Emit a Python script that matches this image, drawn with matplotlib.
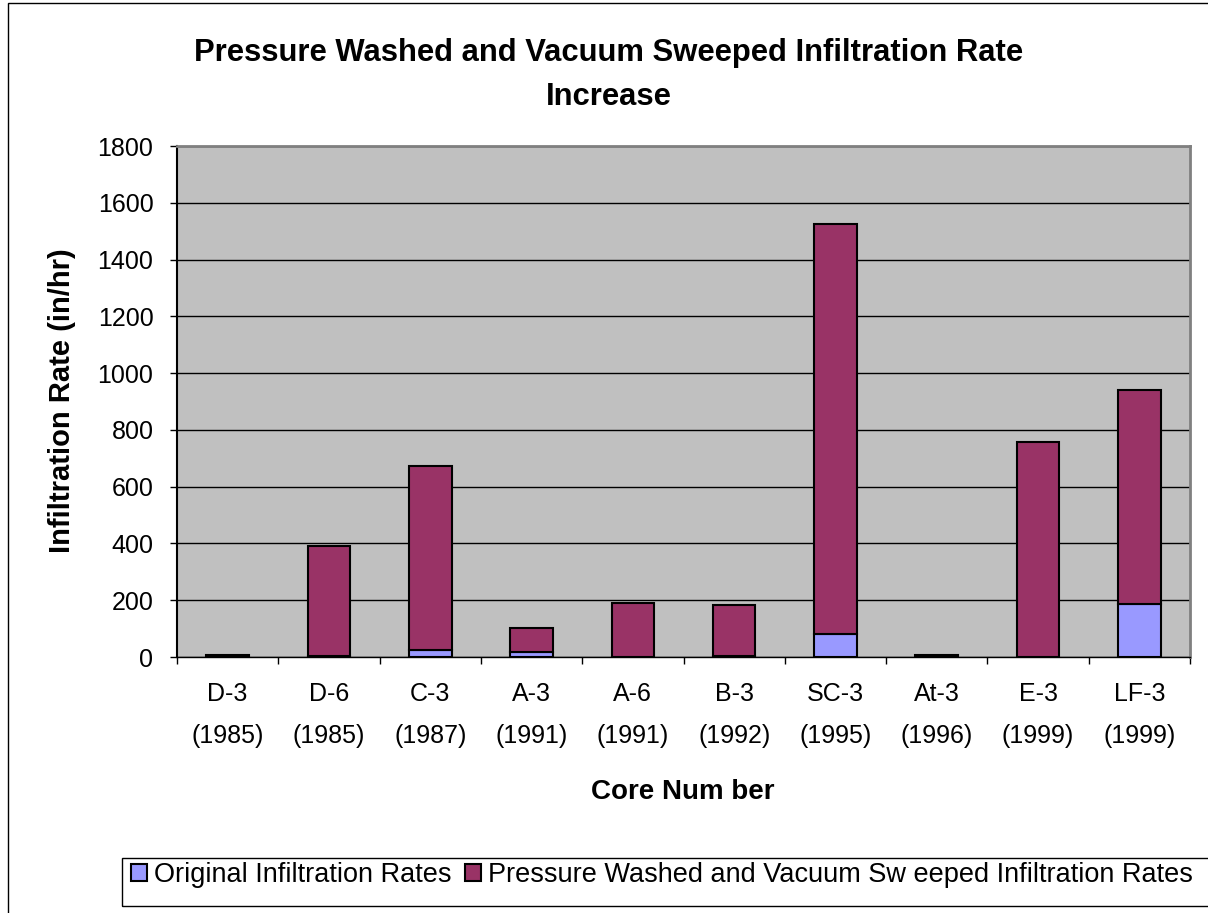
import matplotlib.pyplot as plt
from matplotlib.patches import Rectangle
import numpy as np

plt.rcParams['font.family'] = ['Liberation Sans', 'DejaVu Sans']

cores = ['D-3', 'D-6', 'C-3', 'A-3', 'A-6', 'B-3', 'SC-3', 'At-3', 'E-3', 'LF-3']
years = ['1985', '1985', '1987', '1991', '1991', '1992', '1995', '1996', '1999', '1999']
original = [1, 3, 25, 16, 0, 3, 82, 1, 0, 185]
washed_total = [6, 390, 673, 101, 191, 183, 1527, 6, 756, 941]

W, H = 1208, 913
fig = plt.figure(figsize=(W / 100, H / 100), dpi=100)
ax = fig.add_axes([177 / W, 1 - 657 / H, (1190 - 177) / W, (657 - 146) / H])

x = np.arange(len(cores))
orig = np.array(original)
top = np.array(washed_total) - orig
ax.bar(x, orig, width=0.42, color='#9999FF', edgecolor='black', linewidth=1.5,
       label='Original Infiltration Rates', zorder=3)
ax.bar(x, top, bottom=orig, width=0.42, color='#993366', edgecolor='black', linewidth=1.5,
       label='Pressure Washed and Vacuum Sw eeped Infiltration Rates', zorder=3)

ax.set_facecolor('#C0C0C0')
ax.set_xlim(-0.5, len(cores) - 0.5)
ax.set_ylim(0, 1800)
ax.set_yticks(np.arange(0, 1801, 200))
ax.yaxis.grid(True, color='black', linewidth=1, zorder=1)
ax.set_axisbelow(True)
ax.set_xticks(x)
ax.set_xticklabels([c + '\n(' + y + ')' for c, y in zip(cores, years)], linespacing=1.95)
ax.set_xticks(np.arange(-0.5, len(cores)), minor=True)
ax.tick_params(axis='x', which='major', length=0, labelsize=18, pad=18)
ax.tick_params(axis='x', which='minor', length=5, width=1)
ax.tick_params(axis='y', length=5, width=1, labelsize=18, pad=12)

for s in ['top', 'right']:
    ax.spines[s].set_color('#808080')
    ax.spines[s].set_linewidth(2)
ax.spines['left'].set_color('black')
ax.spines['left'].set_linewidth(1.5)
ax.spines['bottom'].set_color('black')
ax.spines['bottom'].set_linewidth(1)

fig.text(62 / W, 1 - 401 / H, 'Infiltration Rate (in/hr)', fontsize=21, fontweight='bold',
         ha='center', va='center', rotation=90)
fig.text(683 / W, 1 - 792 / H, 'Core Num ber', fontsize=20, fontweight='bold',
         ha='center', va='center')
fig.text(609 / W, 1 - 75 / H, 'Pressure Washed and Vacuum Sweeped Infiltration Rate\nIncrease',
         fontsize=22.3, fontweight='bold', ha='center', va='center', linespacing=1.6)

# outer chart border and legend box
fig.patches.append(Rectangle((8 / W, -0.01), 1.02, 1 - 3 / H + 0.01, transform=fig.transFigure,
                             fill=False, edgecolor='black', linewidth=1))
fig.patches.append(Rectangle((122 / W, 1 - 906 / H), 1.0, 48 / H, transform=fig.transFigure,
                             fill=False, edgecolor='black', linewidth=1))
fig.legend(loc='center left', bbox_to_anchor=(131 / W, 1 - 875 / H), ncol=2, frameon=False,
           fontsize=19.5, handlelength=0.6, handleheight=0.6, handletextpad=0.25,
           columnspacing=0.5, borderaxespad=0, borderpad=0)

fig.savefig('out.png', dpi=100)
